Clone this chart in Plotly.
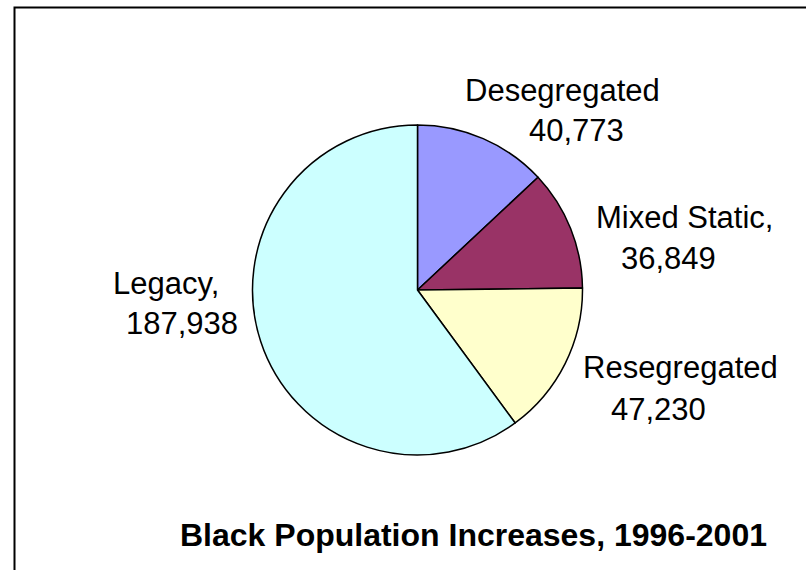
import plotly.graph_objects as go

# Data
categories = ["Desegregated", "Mixed Static", "Resegregated", "Legacy"]
values = [40773, 36849, 47230, 187938]
colors = ["#9999FF", "#993366", "#FFFFCC", "#CCFFFF"]
title_text = "Black Population Increases, 1996-2001"

# Label layout (pixel centres of name line and value line)
label_names = ["Desegregated", "Mixed Static,", "Resegregated", "Legacy,"]
name_pos = [(562, 90), (684, 217), (680, 367), (166, 283)]
value_pos = [(576, 130), (668, 258), (658, 409), (182, 323)]

W, H = 806, 570
FONT = "Liberation Sans, Arial, sans-serif"

def px(x, y):
    return x / W, 1 - y / H

cx, cy, r = 417.5, 290, 165

fig = go.Figure(
    go.Pie(
        labels=categories,
        values=values,
        marker=dict(colors=colors, line=dict(color="black", width=1.5)),
        sort=False,
        direction="clockwise",
        rotation=0,
        textinfo="none",
        hoverinfo="label+value",
        showlegend=False,
        domain=dict(x=[(cx - r) / W, (cx + r) / W], y=[1 - (cy + r) / H, 1 - (cy - r) / H]),
    )
)

annotations = []
for name, v, (nx, ny), (vx, vy) in zip(label_names, values, name_pos, value_pos):
    ax, ay = px(nx, ny)
    annotations.append(dict(x=ax, y=ay, xref="paper", yref="paper", text=name, showarrow=False,
                            xanchor="center", yanchor="middle", font=dict(family=FONT, size=31, color="black")))
    bx, by = px(vx, vy)
    annotations.append(dict(x=bx, y=by, xref="paper", yref="paper", text=f"{v:,}", showarrow=False,
                            xanchor="center", yanchor="middle", font=dict(family=FONT, size=31, color="black")))

tx, ty = px(473, 535)
annotations.append(dict(x=tx, y=ty, xref="paper", yref="paper", text=f"<b>{title_text}</b>", showarrow=False,
                        xanchor="center", yanchor="middle", font=dict(family=FONT, size=32, color="black")))

fig.update_layout(
    width=W, height=H,
    margin=dict(l=0, r=0, t=0, b=0),
    paper_bgcolor="white", plot_bgcolor="white",
    annotations=annotations,
    shapes=[dict(type="rect", xref="paper", yref="paper",
                 x0=14.5 / W, x1=1.05, y0=-0.05, y1=1 - 7.5 / H,
                 line=dict(color="black", width=2), fillcolor="rgba(0,0,0,0)")],
)

fig.write_html("out.html")
